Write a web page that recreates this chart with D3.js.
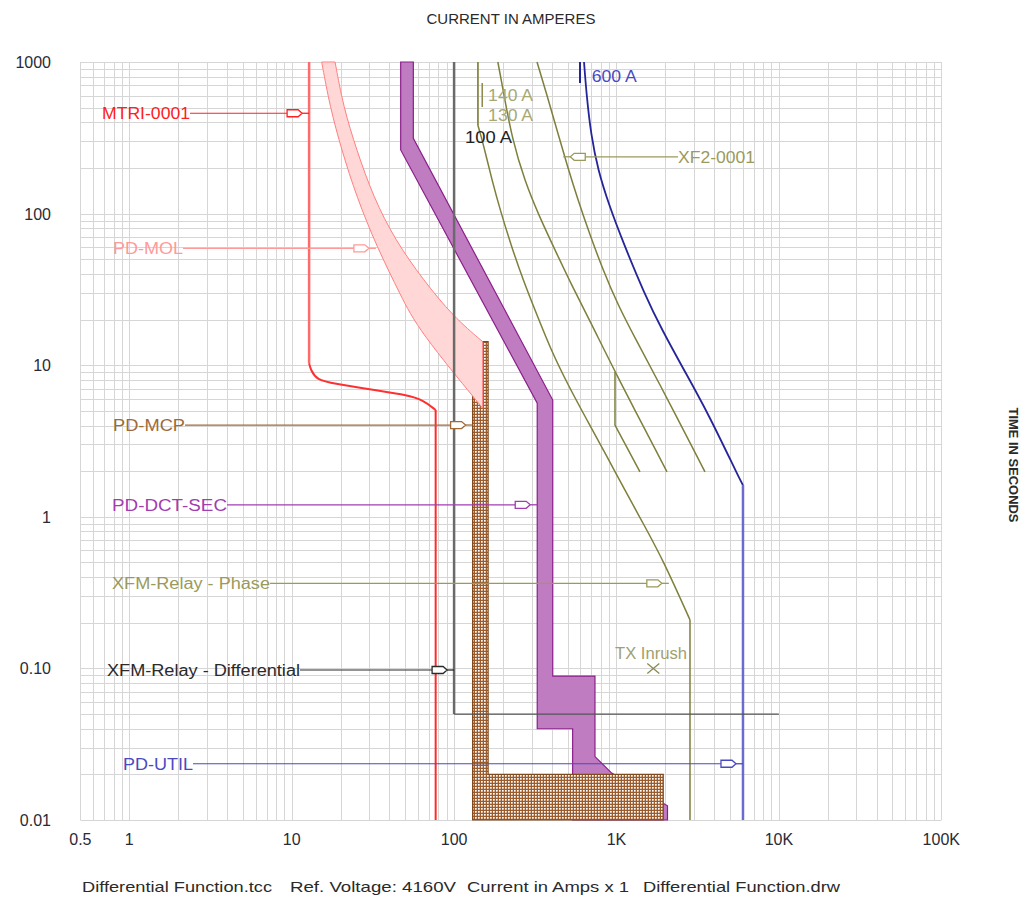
<!DOCTYPE html>
<html>
<head>
<meta charset="utf-8">
<script src="https://cdn.jsdelivr.net/npm/d3@7"></script>
<style>
  body { margin: 0; background: #fff; }
  svg { font-family: "Liberation Sans", Arial, sans-serif; }
</style>
</head>
<body>
<svg id="chart" width="1026" height="899"></svg>
<script>
// axis ticks
const xTicks = [0.5, 1, 10, 100, 1000, 10000, 100000]
const xTickLabels = ["0.5", "1", "10", "100", "1K", "10K", "100K"]
const yTicks = [0.01, 0.1, 1, 10, 100, 1000]
const yTickLabels = ["0.01", "0.10", "1", "10", "100", "1000"]

// curves, [current A, time s]
const mtriTop = [[12.8, 1000], [12.8, 10.3]]
const mtriKnee = [[12.8, 10.3], [13.1, 9.3], [14.3, 8.0], [18, 7.6], [33.4, 6.8], [51, 6.36], [64.6, 5.89], [77, 5.06]]
const mtriInst = [[77, 5.06], [77, 0.01]]
const molMin = [[15.3, 1000], [17.2, 507], [20.3, 263], [25.1, 129], [33.4, 60.5], [47.1, 28.6], [60.2, 17.1], [150, 5.2]]
const molMax = [[18.5, 1000], [20.8, 507], [25.1, 263], [31.8, 129], [43.3, 67], [64.6, 36.5], [98.9, 20.9], [150, 14.3]]
const mcp = [[130, 6.3], [150, 14.3], [162, 14.3], [162, 0.02], [1940, 0.02], [1940, 0.01], [130, 0.01]]
const dctSec = [[46.9, 1000], [46.9, 263], [325, 5.61], [325, 0.04], [537, 0.04], [537, 0.01], [2061, 0.01], [2061, 0.0124],
  [934, 0.0204], [737, 0.0262], [737, 0.089], [405, 0.089], [405, 5.89], [56.1, 314], [56.1, 1000]]
const relayTop = [[140, 1000], [140, 384]]
const relayCurve = [[140, 384], [146, 330], [157, 244], [171, 167], [192, 106], [224, 62.1], [266, 36.5], [324, 21.4], [395, 12.6],
  [503, 7.4], [658, 4.35], [862, 2.56], [1128, 1.5], [1477, 0.883], [1934, 0.519], [2835, 0.209]]
const relayInst = [[2835, 0.209], [2835, 0.01]]
const xfmrA = [[186, 1000], [203, 606], [227, 315], [273, 162], [338, 93.5], [424, 55.8], [540, 32.3], [707, 18.4], [979, 9.02], [2046, 1.98]]
const xfmrStep = [[979, 9.02], [979, 4.03], [1395, 1.98]]
const xfmrB = [[324, 1000], [373, 606], [430, 356], [496, 209], [579, 123], [687, 72.2], [826, 42.5], [1021, 24.9], [1318, 14.7], [1726, 8.62], [3506, 1.98]]
const fla140 = [[140, 1000], [140, 384]]
const fla130 = [[149, 726], [149, 505]]
const utilCurve = [[631, 1000], [654, 606], [697, 330], [769, 194], [899, 114], [1096, 65], [1498, 29], [1906, 17.1], [2604, 9.3],
  [3659, 4.84], [5762, 1.75], [6010, 1.62]]
const utilInst = [[6010, 1.62], [6010, 0.01]]
const util600 = [[596, 1000], [596, 727]]
const diffRelay = [[100, 1000], [100, 0.05], [10000, 0.05]]
const inrush = [1685, 0.1]

// device labels: text, time of leader, current at arrow tip
const devices = [
  { name: "MTRI-0001", t: 459, tip: 12.8, color: "#ff2020", x0: 102, w: 88 },
  { name: "PD-MOL", t: 59, tip: 33, color: "#ff9a9a", x0: 113, w: 70 },
  { name: "PD-MCP", t: 4.03, tip: 130, color: "#a06a38", x0: 113, w: 72 },
  { name: "PD-DCT-SEC", t: 1.2, tip: 325, color: "#a23cb0", x0: 112, w: 115 },
  { name: "XFM-Relay - Phase", t: 0.364, tip: 2100, color: "#9a9a5c", x0: 112, w: 158 },
  { name: "XFM-Relay - Differential", t: 0.0976, tip: 100, color: "#2a2a2a", x0: 107, w: 193 },
  { name: "PD-UTIL", t: 0.0235, tip: 6010, color: "#4a4ac0", x0: 123, w: 70 }
]
const notes = [
  { text: "140 A", at: [162, 606], color: "#a8a872", w: 45 },
  { text: "130 A", at: [162, 447], color: "#a8a872", w: 45 },
  { text: "100 A", at: [116.7, 320], color: "#222", w: 47 },
  { text: "600 A", at: [704, 812], color: "#4a4ac0", w: 45 },
  { text: "TX Inrush", at: [979, 0.126], color: "#a0a070", w: 72 }
]

const svg = d3.select('#chart')
const x = d3.scaleLog().domain([0.5, 100000]).range([80.4, 941.3])
const y = d3.scaleLog().domain([0.01, 1000]).range([820, 62])

let defs = svg.append('defs')
let pat = defs.append('pattern')
  .attr('id', 'hatch')
  .attr('width', 3).attr('height', 3)
  .attr('patternUnits', 'userSpaceOnUse')
pat.append('rect').attr('width', 3).attr('height', 3).attr('fill', '#9a5c2c')
pat.append('rect').attr('x', 1).attr('y', 1).attr('width', 1.7).attr('height', 1.7).attr('fill', '#fff')

// grid
let xGrid = []
let yGrid = []
for (let k = -1; k <= 5; k++) {
  for (let d = 1; d <= 9; d++) {
    let v = d * Math.pow(10, k)
    if (v >= 0.5 && v <= 100000) xGrid.push(v)
  }
}
for (let k = -2; k <= 3; k++) {
  for (let d = 1; d <= 9; d++) {
    let v = d * Math.pow(10, k)
    if (v >= 0.01 && v <= 1000) yGrid.push(v)
  }
}
let grid = svg.append('g').attr('stroke', '#d6d6d6').attr('stroke-width', 1)
grid.selectAll('line.gx').data(xGrid).enter().append('line')
  .attr('x1', d => Math.round(x(d)) + 0.5).attr('x2', d => Math.round(x(d)) + 0.5)
  .attr('y1', y(1000)).attr('y2', y(0.01))
grid.selectAll('line.gy').data(yGrid).enter().append('line')
  .attr('y1', d => Math.round(y(d)) + 0.5).attr('y2', d => Math.round(y(d)) + 0.5)
  .attr('x1', x(0.5)).attr('x2', x(100000))

// tick labels
svg.selectAll('text.xt').data(xTicks).enter().append('text')
  .attr('x', d => x(d)).attr('y', 845)
  .attr('text-anchor', 'middle')
  .attr('font-size', 16).attr('fill', '#2a2a36')
  .text((d, i) => xTickLabels[i])
svg.selectAll('text.yt').data(yTicks).enter().append('text')
  .attr('x', 51).attr('y', d => y(d) + 6)
  .attr('text-anchor', 'end')
  .attr('font-size', 16).attr('fill', '#2a2a36')
  .text((d, i) => yTickLabels[i])

const line = d3.line().x(d => x(d[0])).y(d => y(d[1]))
const smooth = d3.line().x(d => x(d[0])).y(d => y(d[1])).curve(d3.curveBasis)

// filled regions
svg.append('path').attr('d', line(dctSec) + 'Z')
  .attr('fill', '#c07cc0').attr('stroke', '#8a1f8a').attr('stroke-width', 1.2)
svg.append('path').attr('d', line(mcp) + 'Z')
  .attr('fill', 'url(#hatch)').attr('stroke', '#7e4a1e').attr('stroke-width', 1.2)
let molPath = smooth(molMin) + smooth(molMax.slice().reverse()).replace(/^M/, 'L') + 'Z'
svg.append('path').attr('d', molPath)
  .attr('fill', '#ffd7d7').attr('stroke', '#ff8080').attr('stroke-width', 1)

// curves
function curve(data, color, width, gen) {
  svg.append('path').attr('d', (gen || smooth)(data))
    .attr('fill', 'none').attr('stroke', color).attr('stroke-width', width)
    .attr('stroke-linejoin', 'round')
}
curve(mtriTop, '#ff6a6a', 2.5, line)
curve(mtriKnee, '#ff3030', 2)
curve(mtriInst, '#ff2a2a', 2, line)
curve(relayTop, '#7f7f3c', 1.5, line)
curve(relayCurve, '#7f7f3c', 1.5)
curve(relayInst, '#7f7f3c', 1.5, line)
curve(xfmrA, '#7f7f3c', 1.5)
curve(xfmrStep, '#7f7f3c', 1.5, line)
curve(xfmrB, '#7f7f3c', 1.5)
curve(fla140, '#8a8a4a', 1.5, line)
curve(fla130, '#8a8a4a', 1.5, line)
curve(utilCurve, '#25259a', 1.8)
curve(utilInst, '#6a6ad0', 2.5, line)
curve(util600, '#25259a', 2, line)
curve(diffRelay.slice(0, 2), '#6a6a6a', 2.5, line)
curve(diffRelay.slice(1), '#555', 1.3, line)

// inrush point
let ix = x(inrush[0]), iy = y(inrush[1])
svg.append('path')
  .attr('d', `M${ix - 6},${iy - 5}L${ix + 6},${iy + 5}M${ix - 6},${iy + 5}L${ix + 6},${iy - 5}`)
  .attr('stroke', '#8a8a50').attr('stroke-width', 1.3)

// device leaders
function flag(tipX, yy, dir, color) {
  let s = dir
  let p = `M${tipX - s * 22},${yy - 3.5}L${tipX - s * 11},${yy - 3.5}L${tipX - s * 7},${yy}L${tipX - s * 11},${yy + 3.5}L${tipX - s * 22},${yy + 3.5}Z`
  svg.append('path').attr('d', p).attr('fill', '#fff').attr('stroke', color).attr('stroke-width', 1.3)
  svg.append('line').attr('x1', tipX - s * 7).attr('x2', tipX).attr('y1', yy).attr('y2', yy)
    .attr('stroke', color).attr('stroke-width', 1.3)
}

devices.forEach(d => {
  let yy = y(d.t)
  let tx = x(d.tip)
  svg.append('line').attr('x1', d.x0 + d.w).attr('x2', tx - 22).attr('y1', yy).attr('y2', yy)
    .attr('stroke', d.color).attr('stroke-width', 1.2)
  flag(tx, yy, 1, d.color)
  svg.append('text').attr('x', d.x0).attr('y', yy + 6)
    .attr('font-size', 16).attr('fill', d.color)
    .attr('textLength', d.w).attr('lengthAdjust', 'spacingAndGlyphs')
    .text(d.name)
})

// XF2-0001 points left from the right side
let xfY = y(237), xfTip = x(470)
svg.append('line').attr('x1', xfTip + 22).attr('x2', 678).attr('y1', xfY).attr('y2', xfY)
  .attr('stroke', '#9a9a5c').attr('stroke-width', 1.2)
flag(xfTip, xfY, -1, '#9a9a5c')
svg.append('text').attr('x', 678).attr('y', xfY + 6)
  .attr('font-size', 16).attr('fill', '#9a9a5c')
  .attr('textLength', 77).attr('lengthAdjust', 'spacingAndGlyphs')
  .text('XF2-0001')

notes.forEach(n => {
  svg.append('text').attr('x', x(n.at[0])).attr('y', y(n.at[1]) + 6)
    .attr('font-size', 16).attr('fill', n.color)
    .attr('textLength', n.w).attr('lengthAdjust', 'spacingAndGlyphs')
    .text(n.text)
})

// titles
svg.append('text').attr('x', 511).attr('y', 24)
  .attr('text-anchor', 'middle').attr('font-size', 15).attr('fill', '#2a2a2a')
  .text('CURRENT IN AMPERES')
svg.append('text')
  .attr('transform', 'translate(1009,465) rotate(90)')
  .attr('text-anchor', 'middle').attr('font-size', 13).attr('font-weight', 'bold').attr('fill', '#2a2a2a')
  .attr('textLength', 115).attr('lengthAdjust', 'spacingAndGlyphs')
  .text('TIME IN SECONDS')

const footer = [
  ["Differential Function.tcc", 82, 190],
  ["Ref. Voltage: 4160V", 290, 166],
  ["Current in Amps x 1", 467, 162],
  ["Differential Function.drw", 643, 197]
]
svg.selectAll('text.foot').data(footer).enter().append('text')
  .attr('x', d => d[1]).attr('y', 892)
  .attr('font-size', 15).attr('fill', '#2a2a2a')
  .attr('textLength', d => d[2]).attr('lengthAdjust', 'spacingAndGlyphs')
  .text(d => d[0])
</script>
</body>
</html>
